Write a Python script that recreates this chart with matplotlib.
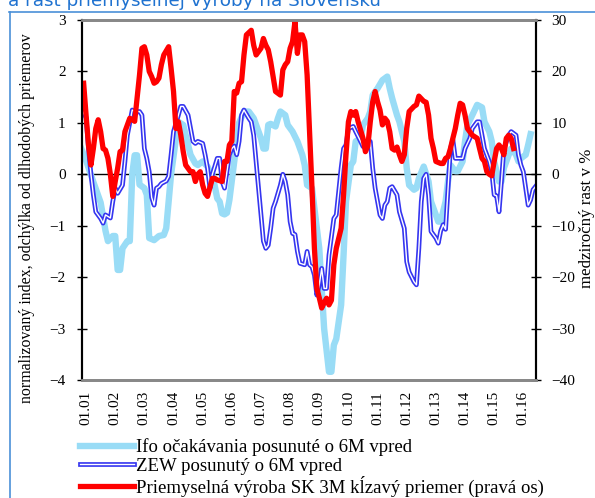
import numpy as np
import matplotlib
matplotlib.use('Agg')
import matplotlib.pyplot as plt
import matplotlib.patheffects as pe
from matplotlib.lines import Line2D

plt.rcParams['font.family'] = ['Liberation Serif', 'DejaVu Serif']

# months since Jan 2001
ifo_m = [-2, 0, 3, 6, 8, 9, 11, 12, 13, 14, 15, 17, 18, 19, 20, 21, 22, 24, 25, 26, 28, 30, 32, 33,
         34, 35, 37, 38, 40, 41, 43, 45, 46, 48, 50, 51, 52, 54, 55, 56, 57, 58, 59, 61, 62, 63, 65,
         67, 69, 71, 72, 73, 74, 75, 76, 78, 79, 80, 82, 83, 85, 87, 89, 90, 91, 93, 94, 96, 97, 98,
         100, 101, 102, 103, 105, 106, 107, 109, 110, 111, 113, 114, 116, 117, 118, 120, 122, 124,
         125, 126, 128, 129, 131, 132, 133, 135, 136, 137, 139, 141, 142, 144, 145, 146, 148, 149,
         150, 152, 153, 155, 156, 157, 159, 161, 163, 164, 166, 167, 168, 170, 171, 172, 174, 175,
         177, 178, 179, 181, 182, 183]
ifo_v = [0.5, 0.27, -0.15, -0.55, -1.1, -1.3, -1.2, -1.2, -1.86, -1.86, -1.44, -1.3, -1.3, 0.0, 0.37,
         0.37, -0.2, -0.27, -0.4, -1.24, -1.28, -1.2, -1.18, -1.05, -0.53, 0.0, 0.7, 1.02, 0.96, 0.76,
         0.38, 0.21, 0.18, 0.25, 0.15, 0.05, 0.0, -0.47, -0.53, -0.76, -0.78, -0.75, -0.5, 0.25, 0.64,
         1.0, 1.22, 1.22, 1.09, 0.83, 0.7, 0.5, 0.5, 0.96, 0.98, 0.93, 1.09, 1.22, 1.15, 0.96, 0.83,
         0.64, 0.38, 0.18, -0.21, -0.27, -0.66, -1.44, -2.22, -3.0, -3.84, -3.84, -3.32, -3.2, -2.54,
         -1.57, -0.53, 0.18, 0.25, 0.64, 0.7, 0.96, 1.09, 1.22, 1.54, 1.67, 1.83, 1.9, 1.67, 1.48,
         1.15, 1.02, 0.64, 0.12, -0.21, -0.3, -0.27, -0.08, 0.15, -0.14, -0.53, -0.79, -0.92, -0.92,
         -0.53, -0.14, 0.18, 0.06, 0.06, 0.25, 0.64, 0.96, 1.15, 1.35, 1.3, 1.02, 0.83, 0.64, 0.25,
         -0.14, -0.14, 0.12, 0.38, 0.5, 0.38, 0.25, 0.31, 0.38, 0.57, 0.78]

zew_m = [-2, 0, 1, 2, 3, 4, 6, 7, 8, 10, 11, 12, 13, 15, 16, 17, 19, 20, 22, 23, 24, 25, 26, 27, 28,
         29, 30, 31, 33, 34, 35, 36, 38, 39, 40, 42, 44, 45, 46, 48, 49, 50, 51, 52, 54, 55, 56, 57,
         58, 59, 60, 61, 62, 63, 64, 65, 67, 68, 69, 70, 71, 72, 73, 74, 75, 76, 77, 78, 80, 81, 82,
         83, 84, 85, 86, 87, 88, 90, 91, 92, 93, 94, 95, 96, 97, 98, 99, 100, 102, 103, 105, 106,
         107, 108, 110, 111, 113, 114, 116, 117, 118, 119, 121, 122, 123, 124, 125, 126, 128, 129,
         131, 132, 133, 135, 136, 137, 138, 139, 140, 141, 142, 144, 145, 146, 147, 148, 149, 150,
         151, 152, 154, 155, 156, 158, 159, 161, 162, 163, 164, 166, 167, 168, 169, 170, 171, 172,
         174, 175, 177, 178, 179, 180, 181, 182, 183, 184, 185]
zew_v = [1.28, 1.1, 0.5, 0.0, -0.4, -0.73, -0.86, -0.95, -0.79, -0.85, -0.53, -0.27, -0.37, -0.21,
         0.25, 0.76, 1.25, 1.22, 1.22, 1.15, 0.5, 0.31, 0.05, -0.45, -0.6, -0.27, -0.24, -0.18, -0.13,
         -0.04, 0.38, 0.83, 1.15, 1.32, 1.32, 1.15, 0.64, 0.6, 0.64, 0.6, 0.38, 0.12, -0.27, 0.0, 0.31,
         0.31, -0.14, -0.27, 0.05, 0.38, 0.5, 0.55, 0.38, 0.64, 1.15, 1.25, 1.09, 1.02, 0.76, 0.25,
         -0.27, -0.79, -1.3, -1.44, -1.38, -1.05, -0.66, -0.53, -0.21, 0.0, -0.14, -0.4, -0.92, -1.15,
         -1.17, -1.5, -1.73, -1.76, -1.5, -1.76, -1.8, -1.96, -2.35, -2.15, -1.83, -2.22, -2.22,
         -1.57, -0.86, -0.79, 0.12, 0.5, 0.57, 0.89, 0.93, 0.83, 0.64, 0.54, 0.57, 0.64, 0.12, -0.27,
         -0.79, -0.86, -0.6, -0.53, -0.27, -0.24, -0.4, -0.73, -1.05, -1.7, -1.9, -2.09, -2.15,
         -1.44, -0.53, -0.08, 0.0, -0.4, -1.11, -1.24, -1.34, -1.1, -0.98, -1.07, -0.27, 0.5, 0.67,
         0.31, 0.31, 0.31, 0.5, 0.7, 0.89, 1.02, 1.02, 0.76, 0.5, 0.25, 0.05, -0.4, -0.42, -0.73,
         -0.14, 0.5, 0.76, 0.83, 0.76, 0.38, 0.18, 0.05, -0.27, -0.6, -0.5, -0.3, -0.24]

ip_m = [-1, 0, 1, 2, 3, 4, 5, 6, 7, 8, 9, 10, 11, 12, 13, 14, 15, 16, 17, 18, 19, 20, 21, 22, 23,
        24, 25, 26, 27, 28, 29, 30, 31, 32, 34, 35, 36, 37, 38, 39, 40, 41, 43, 44, 45, 46, 47, 48,
        49, 50, 52, 53, 54, 56, 57, 58, 59, 60, 61, 62, 63, 64, 65, 66, 68, 69, 70, 72, 73, 74, 75,
        76, 77, 78, 80, 81, 82, 83, 84, 85, 86, 87, 88, 89, 90, 91, 92, 93, 94, 95, 96, 97, 98, 99,
        100, 101, 102, 103, 105, 106, 107, 108, 109, 110, 111, 112, 114, 115, 116, 117, 118, 119,
        120, 121, 122, 123, 124, 125, 126, 127, 128, 129, 130, 131, 132, 133, 135, 136, 137, 139,
        140, 141, 142, 143, 144, 146, 147, 148, 149, 150, 151, 152, 153, 154, 155, 156, 157, 159,
        160, 161, 162, 163, 164, 165, 166, 167, 168, 169, 170, 171, 172, 173, 174, 175, 176]
ip_v = [17.7, 11.5, 5.7, 1.8, 5.0, 8.9, 10.6, 8.3, 5.0, 4.7, 3.1, 0.0, -4.3, -1.4, 1.2, 4.4, 4.7,
        8.3, 9.6, 10.9, 10.6, 10.3, 14.8, 19.3, 24.5, 24.8, 23.2, 20.0, 19.0, 17.7, 18.0, 18.7, 21.3,
        23.2, 24.8, 20.6, 16.1, 8.9, 10.2, 7.6, 4.4, 1.8, 0.5, 0.5, -1.4, 0.0, 0.5, -2.1, -3.7, -4.3,
        -0.8, -0.8, -1.1, -1.4, 2.5, 2.5, 5.7, 6.4, 16.1, 15.8, 17.7, 18.0, 23.2, 27.1, 28.0, 25.1,
        23.2, 24.5, 26.4, 25.1, 24.2, 21.9, 19.0, 16.1, 15.4, 20.3, 21.3, 21.9, 24.5, 25.8, 29.7,
        23.5, 27.1, 27.1, 25.8, 19.3, 8.3, -2.7, -14.4, -22.2, -24.0, -26.0, -25.0, -24.1, -25.4,
        -24.5, -17.6, -14.4, -10.5, -4.0, 3.8, 10.2, 12.2, 11.5, 12.2, 10.2, 7.0, 4.4, 5.5, 10.2,
        14.1, 16.1, 14.1, 12.5, 9.6, 10.9, 10.3, 8.3, 5.0, 4.7, 5.3, 3.8, 2.5, 3.8, 8.9, 12.2, 13.2,
        13.5, 15.2, 14.2, 14.0, 11.5, 7.0, 5.0, 2.5, 2.1, 2.1, 3.1, 3.4, 5.0, 7.0, 8.9, 11.5, 13.8,
        13.5, 11.5, 8.9, 7.6, 7.3, 7.0, 5.0, 3.1, 2.5, 0.5, 0.0, -0.3, 2.5, 5.0, 5.7, 5.0, 3.8, 7.0,
        7.6, 7.0, 5.0]

years = ['01.%02d' % y for y in range(1, 17)]

W, H = 595, 498
fig = plt.figure(figsize=(W / 100, H / 100), dpi=100)
ax = fig.add_axes([81.7 / W, 1 - 380 / H, (535.7 - 81.7) / W, (380 - 20) / H])
ax2 = ax.twinx()

ifo_line, = ax.plot(ifo_m, ifo_v, color='#99dcf6', lw=4.6, solid_joinstyle='round',
                    label='Ifo očakávania posunuté o 6M vpred', zorder=2)
zew_line, = ax.plot(zew_m, zew_v, color='white', lw=1.0, zorder=3,
                    path_effects=[pe.Stroke(linewidth=3.4, foreground='#3535f0'), pe.Normal()],
                    label='ZEW posunutý o 6M vpred')
ax.axhline(0, color='black', lw=1.0, zorder=1)
ip_line, = ax2.plot(ip_m, ip_v, color='#ff0000', lw=3.8, solid_joinstyle='round',
                    label='Priemyselná výroba SK 3M kĺzavý priemer (pravá os)')

ax.set_xlim(-1.8, 185.1)
ax.set_ylim(-4, 3)
ax2.set_ylim(-40, 30)
ax.set_yticks(range(-4, 4))
ax2.set_yticks(range(-40, 31, 10))
ax.set_xticks(np.arange(0, 181, 12))
ax.set_xticklabels(years, rotation=90, fontsize=11)
ax.tick_params(axis='x', length=0, pad=8)
ax.tick_params(axis='y', direction='inout', length=7, width=1, labelsize=11, pad=8)
ax2.tick_params(axis='y', direction='inout', length=7, width=1, labelsize=11, pad=8)

for a in (ax, ax2):
    a.spines['top'].set_color('#888888')
    a.spines['top'].set_linewidth(2)
    a.spines['bottom'].set_color('#888888')
    a.spines['bottom'].set_linewidth(2)
    a.spines['left'].set_linewidth(1.5)
    a.spines['right'].set_linewidth(1.5)

ax.set_ylabel('normalizovaný index, odchýlka od dlhodobých priemerov', fontsize=11.4)
ax.yaxis.set_label_coords(-0.102, 0.45)
ax2.set_ylabel('medziročný rast v %', fontsize=12.2, rotation=90)
ax2.yaxis.set_label_coords(1.095, 0.45)

fig.legend(handles=[ifo_line, zew_line, ip_line], loc='upper left',
           bbox_to_anchor=(72 / W, 1 - 431 / H), frameon=False, fontsize=13.5,
           handlelength=2.9, handletextpad=0.12, labelspacing=0.06, borderaxespad=0)

# blue frame and cut-off title
frame_c = '#4a90d8'
fig.add_artist(Line2D([9 / W, 1], [1 - 12 / H, 1 - 12 / H], color=frame_c, lw=1.2,
                      transform=fig.transFigure))
fig.add_artist(Line2D([10 / W, 10 / W], [1 - 12 / H, 0], color=frame_c, lw=1.2,
                      transform=fig.transFigure))
fig.text(8 / W, 1 - 6.5 / H, 'a rast priemyselnej výroby na Slovensku', color='#1f72d0',
         fontsize=13.2, family='DejaVu Sans', va='baseline', ha='left')

fig.savefig('out.png', dpi=100)
